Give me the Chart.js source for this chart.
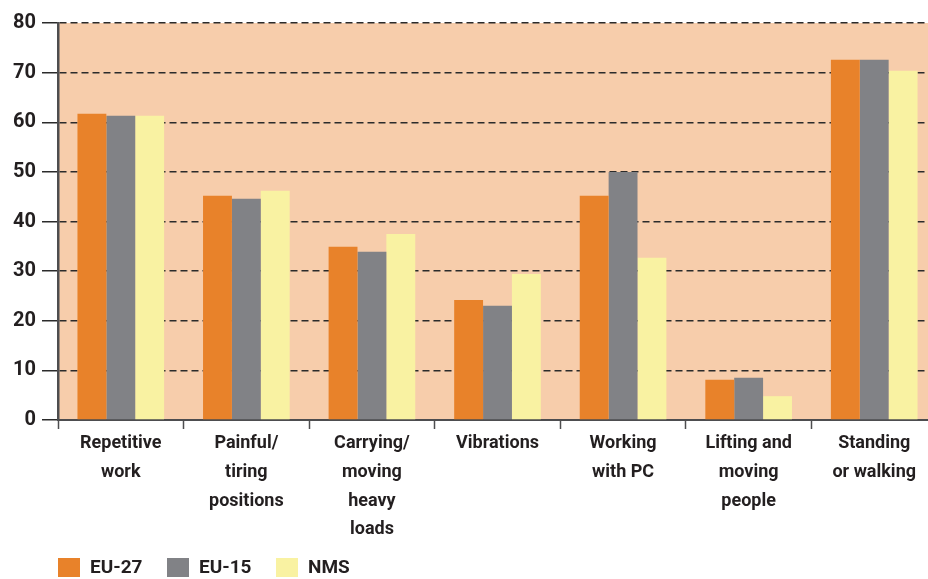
<!DOCTYPE html>
<html>
<head>
<meta charset="utf-8">
<script src="https://cdn.jsdelivr.net/npm/chart.js@4/dist/chart.umd.min.js"></script>
<style>
html, body { margin: 0; background: #fff; overflow: hidden; }
#wrap { width: 940px; height: 579px; }
</style>
</head>
<body>
<div id="wrap"><canvas id="chart"></canvas></div>
<script>
// data
const categories = [
    ['Repetitive', 'work'],
    ['Painful/', 'tiring', 'positions'],
    ['Carrying/', 'moving', 'heavy', 'loads'],
    ['Vibrations'],
    ['Working', 'with PC'],
    ['Lifting and', 'moving', 'people'],
    ['Standing', 'or walking']
];
const seriesNames = ['EU-27', 'EU-15', 'NMS'];
const eu27 = [61.7, 45.2, 34.9, 24.2, 45.2, 8.1, 72.6];
const eu15 = [61.3, 44.6, 33.9, 23.0, 50.0, 8.5, 72.6];
const nms  = [61.3, 46.2, 37.5, 29.4, 32.7, 4.8, 70.4];
const yMin = 0, yMax = 80, yStep = 10;

const colors = ['#E8822A', '#818286', '#F9F2A2'];
const FONT = 'Roboto, "Liberation Sans", sans-serif';

// peach plot background
const plotBg = {
    id: 'plotBg',
    beforeDraw(chart) {
        const { ctx, chartArea: a } = chart;
        ctx.save();
        ctx.fillStyle = '#F7CDAB';
        ctx.fillRect(a.left, a.top, a.right - a.left, a.bottom - a.top);
        ctx.restore();
    }
};

// simple legend drawn under the chart
const bottomLegend = {
    id: 'bottomLegend',
    afterDraw(chart) {
        const ctx = chart.ctx;
        const starts = [58, 167, 276];
        ctx.save();
        ctx.font = 'bold 19px ' + FONT;
        ctx.textBaseline = 'middle';
        chart.data.datasets.forEach((ds, i) => {
            const x = starts[i];
            ctx.fillStyle = ds.backgroundColor;
            ctx.fillRect(x, 558, 22, 19);
            ctx.fillStyle = '#231F20';
            ctx.fillText(ds.label, x + 32, 568);
        });
        ctx.restore();
    }
};

new Chart(document.getElementById('chart'), {
    type: 'bar',
    data: {
        labels: categories,
        datasets: [eu27, eu15, nms].map((d, i) => ({
            label: seriesNames[i],
            data: d,
            backgroundColor: colors[i],
            borderWidth: 0,
            categoryPercentage: 0.69,
            barPercentage: 1.0
        }))
    },
    options: {
        responsive: true,
        maintainAspectRatio: false,
        animation: false,
        layout: { padding: { top: 23, right: 3, left: 0, bottom: 0 } },
        plugins: {
            legend: { display: false },
            tooltip: { enabled: false }
        },
        scales: {
            x: {
                afterFit: (s) => { s.height = 159; },
                grid: {
                    offset: true,
                    drawOnChartArea: false,
                    drawTicks: true,
                    tickLength: 9,
                    tickWidth: 1.5,
                    tickColor: '#4D4D4F'
                },
                border: { display: true, color: '#4D4D4F', width: 2 },
                ticks: {
                    color: '#231F20',
                    padding: 0,
                    maxRotation: 0,
                    font: { family: FONT, size: 18, weight: 'bold', lineHeight: 1.6 }
                }
            },
            y: {
                min: yMin,
                max: yMax,
                afterFit: (s) => { s.width = 58; },
                grid: {
                    color: '#2B2B2B',
                    lineWidth: 1.5,
                    drawTicks: true,
                    tickLength: 16,
                    tickWidth: 1.5,
                    tickColor: '#2B2B2B'
                },
                border: { display: true, color: '#4D4D4F', width: 2.5, dash: [7, 4] },
                ticks: {
                    stepSize: yStep,
                    color: '#231F20',
                    padding: 6,
                    font: { family: FONT, size: 20, weight: 'bold' }
                }
            }
        }
    },
    plugins: [plotBg, bottomLegend]
});
</script>
</body>
</html>
